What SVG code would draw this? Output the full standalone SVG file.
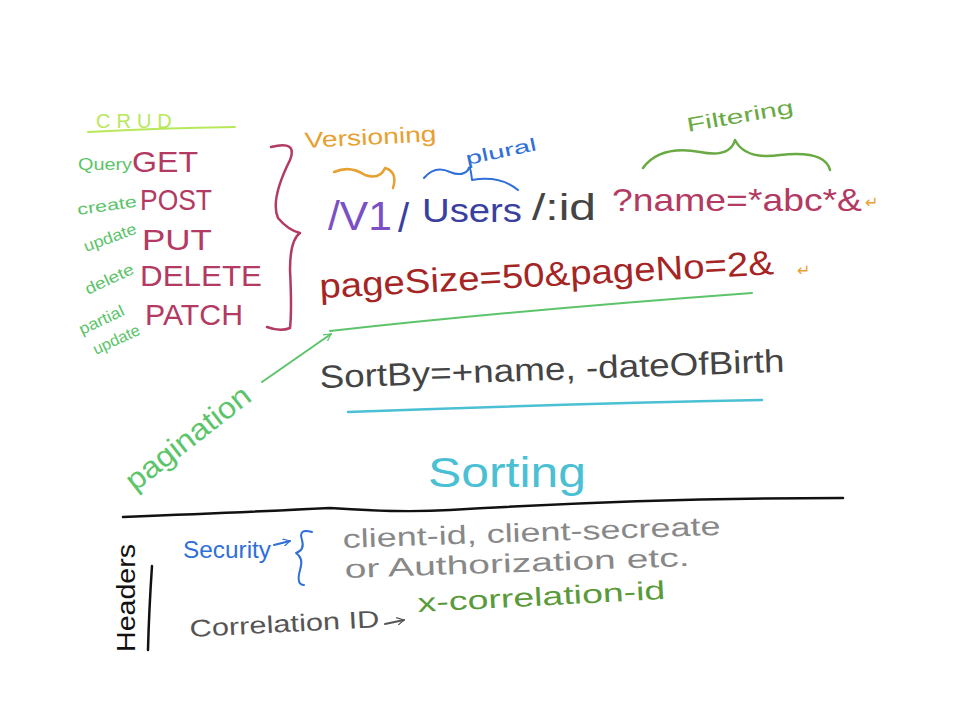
<svg xmlns="http://www.w3.org/2000/svg" width="960" height="720" viewBox="0 0 960 720">
<style>
text{font-family:"Liberation Sans","DejaVu Sans",sans-serif;}
.crud{fill:#b33a62;font-size:30px;}
.lbl{fill:#5cc46a;font-size:16px;}
.stroke{fill:none;stroke-linecap:round;stroke-linejoin:round;}
</style>
<defs>
<marker id="ah" viewBox="0 0 10 10" refX="9" refY="5" markerWidth="8" markerHeight="8" orient="auto" markerUnits="userSpaceOnUse">
<path d="M0,0 L9,5 L0,10" fill="none" stroke="context-stroke" stroke-width="1.5"/>
</marker>
</defs>
<rect width="960" height="720" fill="#ffffff"/>

<g id="crud">
<text x="96" y="128" fill="#b8e85a" font-size="20" letter-spacing="6">CRUD</text>
<path class="stroke" d="M88,132 Q160,128 235,127" stroke="#b8e85a" stroke-width="2"/>
<text x="132" y="172" class="crud" textLength="66" lengthAdjust="spacingAndGlyphs">GET</text>
<text x="140" y="210" class="crud" textLength="72" lengthAdjust="spacingAndGlyphs">POST</text>
<text x="142" y="250" class="crud" textLength="70" lengthAdjust="spacingAndGlyphs">PUT</text>
<text x="140" y="286" class="crud" textLength="122" lengthAdjust="spacingAndGlyphs">DELETE</text>
<text x="145" y="325" class="crud" textLength="98" lengthAdjust="spacingAndGlyphs">PATCH</text>
<text x="78" y="170" class="lbl" textLength="54" lengthAdjust="spacingAndGlyphs">Query</text>
<text x="78" y="215" class="lbl" transform="rotate(-8 78 215)" textLength="60" lengthAdjust="spacingAndGlyphs">create</text>
<text x="86" y="252" class="lbl" transform="rotate(-20 86 252)" textLength="55" lengthAdjust="spacingAndGlyphs">update</text>
<text x="88" y="295" class="lbl" transform="rotate(-25 88 295)" textLength="52" lengthAdjust="spacingAndGlyphs">delete</text>
<text x="82" y="335" class="lbl" transform="rotate(-25 82 335)" textLength="48" lengthAdjust="spacingAndGlyphs">partial</text>
<text x="96" y="355" class="lbl" transform="rotate(-25 96 355)" textLength="50" lengthAdjust="spacingAndGlyphs">update</text>
<path class="stroke" d="M271,147 Q298,140 290,160 Q270,200 278,218 Q288,230 300,233 Q290,240 290,270 Q292,310 290,328 Q280,332 267,327" stroke="#b33a62" stroke-width="2.5"/>
</g>

<g id="url">
<text x="305" y="148" fill="#e8a030" font-size="22" textLength="132" lengthAdjust="spacingAndGlyphs" transform="rotate(-3 305 148)">Versioning</text>
<path class="stroke" d="M334,172 Q350,165 365,175 Q380,180 385,168 Q398,172 393,188" stroke="#e8a030" stroke-width="2.5"/>
<text x="467" y="165" fill="#2f6fd8" font-size="18" textLength="72" lengthAdjust="spacingAndGlyphs" transform="rotate(-12 467 165)">plural</text>
<path class="stroke" d="M424,178 Q435,165 450,172 Q462,177 468,170 Q470,162 472,180 Q500,175 518,190" stroke="#2f6fd8" stroke-width="2"/>
<text x="328" y="230" fill="#7b50c4" font-size="40" textLength="64" lengthAdjust="spacingAndGlyphs">/V1</text>
<text x="398" y="232" fill="#3a40a0" font-size="40">/</text>
<text x="422" y="222" fill="#3a40a0" font-size="34" textLength="100" lengthAdjust="spacingAndGlyphs">Users</text>
<text x="532" y="220" fill="#444" font-size="36" textLength="64" lengthAdjust="spacingAndGlyphs">/:id</text>
<text x="612" y="211" fill="#b33a62" font-size="32" textLength="250" lengthAdjust="spacingAndGlyphs">?name=*abc*&amp;</text>
<text x="865" y="208" fill="#e8a030" font-size="16">↵</text>
<text x="688" y="132" fill="#6aaa44" font-size="20" textLength="108" lengthAdjust="spacingAndGlyphs" transform="rotate(-10 688 132)">Filtering</text>
<path class="stroke" d="M643,168 Q660,145 700,152 Q730,158 735,140 Q745,160 780,155 Q825,150 830,170" stroke="#6aaa44" stroke-width="2.5"/>
</g>

<g id="pagination">
<text x="320" y="298" fill="#a52525" font-size="34" textLength="455" lengthAdjust="spacingAndGlyphs" transform="rotate(-3 320 298)">pageSize=50&amp;pageNo=2&amp;</text>
<text x="797" y="276" fill="#e8a030" font-size="16">↵</text>
<text x="135" y="492" fill="#5cc46a" font-size="30" textLength="150" lengthAdjust="spacingAndGlyphs" transform="rotate(-38 135 492)">pagination</text>
</g>

<g id="sorting">
<text x="320" y="388" fill="#444" font-size="32" textLength="465" lengthAdjust="spacingAndGlyphs" transform="rotate(-2 320 388)">SortBy=+name, -dateOfBirth</text>
<text x="428" y="487" fill="#4bbfd4" font-size="42" textLength="158" lengthAdjust="spacingAndGlyphs">Sorting</text>
</g>

<g id="headers">
<text x="135" y="652" fill="#111" font-size="26" textLength="108" lengthAdjust="spacingAndGlyphs" transform="rotate(-90 135 652)">Headers</text>
<text x="183" y="558" fill="#2f6fd8" font-size="24" textLength="88" lengthAdjust="spacingAndGlyphs">Security</text>
<text x="343" y="548" fill="#888" font-size="26" textLength="378" lengthAdjust="spacingAndGlyphs" transform="rotate(-2 343 548)">client-id, client-secreate</text>
<text x="345" y="578" fill="#888" font-size="26" textLength="345" lengthAdjust="spacingAndGlyphs" transform="rotate(-2 345 578)">or Authorization etc.</text>
<text x="190" y="637" fill="#555" font-size="24" textLength="190" lengthAdjust="spacingAndGlyphs" transform="rotate(-3 190 637)">Correlation ID</text>
<text x="418" y="612" fill="#5a9a3a" font-size="26" textLength="248" lengthAdjust="spacingAndGlyphs" transform="rotate(-3 418 612)">x-correlation-id</text>
</g>

<g id="connectors">
<path class="stroke" d="M330,331 Q520,310 752,293" stroke="#5cc46a" stroke-width="2"/>
<path class="stroke" d="M262,382 L331,334" stroke="#5cc46a" stroke-width="2" marker-end="url(#ah)"/>
<path class="stroke" d="M348,412 Q560,404 762,400" stroke="#4bbfd4" stroke-width="2.5"/>
<path class="stroke" d="M123,517 Q250,512 330,508 Q400,513 450,510 Q650,498 843,498" stroke="#111" stroke-width="2.5"/>
<path class="stroke" d="M152,566 Q149,610 148,650" stroke="#111" stroke-width="2.5"/>
<path class="stroke" d="M274,545 L290,541" stroke="#2f6fd8" stroke-width="2" marker-end="url(#ah)"/>
<path class="stroke" d="M312,532 Q298,528 302,540 Q305,550 296,553 Q304,558 300,570 Q296,585 304,585" stroke="#2f6fd8" stroke-width="2"/>
<path class="stroke" d="M385,624 L404,620" stroke="#555" stroke-width="2" marker-end="url(#ah)"/>
</g>
</svg>
